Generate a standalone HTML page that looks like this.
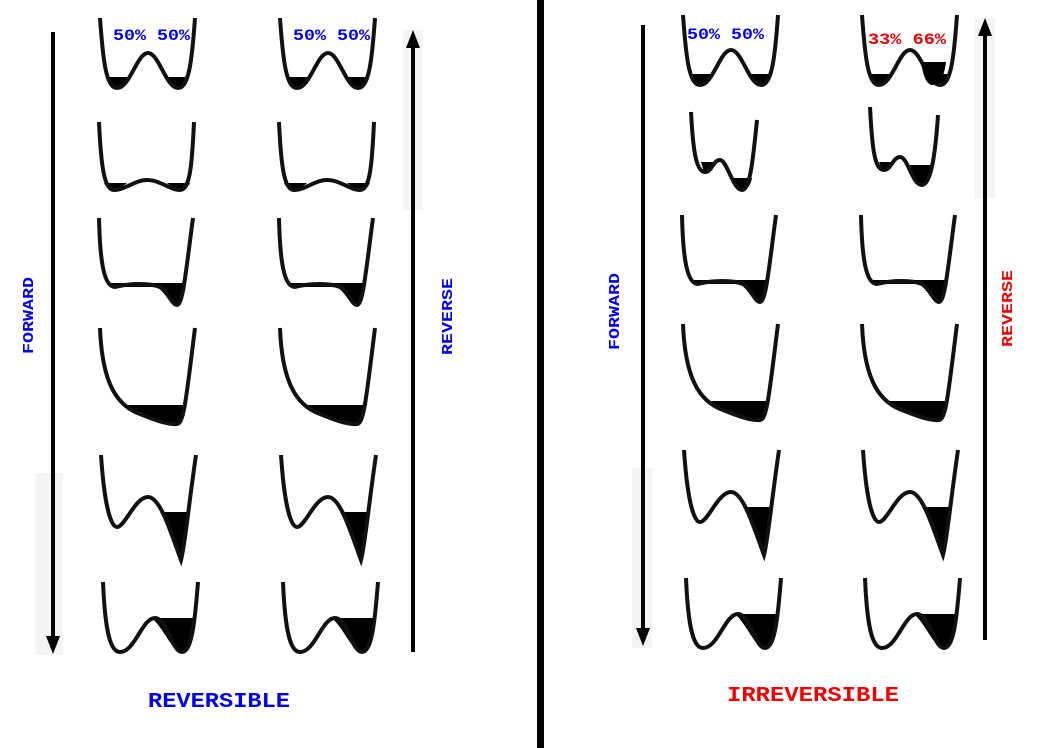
<!DOCTYPE html>
<html><head><meta charset="utf-8"><style>
html,body{margin:0;padding:0;background:#fff;}
svg{display:block;}
text{font-family:"Liberation Mono",monospace;font-weight:bold;}
</style></head><body>
<svg width="1042" height="748" viewBox="0 0 1042 748">
<defs>
<g id="w1">
<path d="M106,77 L128,77 C124,86 120,89 117,89 C112,89 108,85 106,77Z M167,77 L189,77 C187,85 183,89 178,89 C173,89 170,85 167,77Z" fill="#000"/>
<path d="M100,18 C103,60 106,88 117,88 C130,88 137,53 148,53 C159,53 166,88 178,88 C189,88 192,60 195,18" fill="none" stroke="#111" stroke-width="4"/>
</g>
<g id="w2">
<path d="M104,183 L127,183 C120,189 116,190 113,190 C109,190 106,187 104,183Z M167,183 L190,183 C188,187 185,190 181,190 C177,190 172,187 167,183Z" fill="#000"/>
<path d="M99,122 C101,165 104,190 114,190 C125,190 135,180 147,180 C160,180 170,190 180,190 C190,190 192,165 194,122" fill="none" stroke="#111" stroke-width="4"/>
</g>
<g id="w3">
<path d="M110,283 L186,283 C185,296 180,306 176,305 C170,303 166,290 160,287 L120,287 C115,288 112,286 110,283Z" fill="#000"/>
<path d="M99,218 C100,262 104,287 115,287 C130,283 150,283 160,287 C168,292 172,305 177,305 C183,305 186,270 193,218" fill="none" stroke="#111" stroke-width="4"/>
</g>
<g id="w4">
<path d="M122,405 L186,405 C185,418 182,424 176,424 C165,424 150,420 140,414 C132,410 126,408 122,405Z" fill="#000"/>
<path d="M100,328 C102,380 115,405 140,414 C155,420 168,425 177,424 C184,423 186,400 195,328" fill="none" stroke="#111" stroke-width="4"/>
</g>
<g id="w5">
<path d="M160,512 L189,512 L181,560 C176,545 168,525 160,512Z" fill="#000"/>
<path d="M101,455 C104,500 110,527 117,527 C125,527 135,497 148,497 C160,497 170,530 181,560 C185,545 188,510 196,455" fill="none" stroke="#111" stroke-width="4"/>
</g>
<g id="w6">
<path d="M152,618 L195,618 C193,640 188,652 182,652 C172,652 165,630 152,618Z" fill="#000"/>
<path d="M103,582 C105,630 110,652 120,652 C135,652 142,618 155,618 C167,618 172,652 182,652 C192,652 195,620 198,582" fill="none" stroke="#111" stroke-width="4"/>
</g>
<g id="r2a">
<path d="M701,162 L716,162 C712,172 707,174 704,172Z M732,178 L752,178 C750,188 745,191 741,190 C737,188 734,184 732,178Z" fill="#000"/>
<path d="M691,112 C693,150 696,172 705,172 C712,172 713,160 720,160 C727,160 733,190 742,190 C750,190 753,160 757,120" fill="none" stroke="#111" stroke-width="4"/>
</g>
<g id="r2b">
<path d="M879,162 L892,162 C890,170 886,172 882,170Z M910,165 L932,165 C930,180 925,185 920,183 C915,181 912,172 910,165Z" fill="#000"/>
<path d="M870,107 C872,145 874,170 884,170 C891,170 893,157 900,157 C908,157 912,185 922,185 C930,185 935,160 938,115" fill="none" stroke="#111" stroke-width="4"/>
</g>
</defs>

<rect x="35" y="473" width="28" height="182" fill="#f4f4f4"/>
<rect x="403" y="30" width="20" height="180" fill="#f4f4f4"/>
<rect x="632" y="468" width="20" height="180" fill="#f4f4f4"/>
<rect x="975" y="18" width="20" height="180" fill="#f4f4f4"/>

<rect x="537" y="0" width="7" height="748" fill="#000"/>

<g>
<line x1="53" y1="32" x2="53" y2="640" stroke="#000" stroke-width="4"/>
<path d="M46,636 L60,636 L53,654 Z" fill="#000"/>
</g>
<g>
<line x1="413" y1="652" x2="413" y2="44" stroke="#000" stroke-width="4"/>
<path d="M406,48 L420,48 L413,30 Z" fill="#000"/>
</g>
<g>
<line x1="643" y1="25" x2="643" y2="632" stroke="#000" stroke-width="4"/>
<path d="M636,628 L650,628 L643,646 Z" fill="#000"/>
</g>
<g>
<line x1="985" y1="640" x2="985" y2="32" stroke="#000" stroke-width="4"/>
<path d="M978,36 L992,36 L985,18 Z" fill="#000"/>
</g>

<g>
<use href="#w1"/>
<use href="#w1" transform="translate(180,0)"/>
<use href="#w2"/>
<use href="#w2" transform="translate(180,0)"/>
<use href="#w3"/>
<use href="#w3" transform="translate(180,0)"/>
<use href="#w4"/>
<use href="#w4" transform="translate(180,0)"/>
<use href="#w5"/>
<use href="#w5" transform="translate(180,0)"/>
<use href="#w6"/>
<use href="#w6" transform="translate(180,0)"/>
</g>

<g>
<use href="#w1" transform="translate(583,-3)"/>
<use href="#w1" transform="translate(762,-3)"/>
<path d="M921,62 L946,62 C944,78 939,85 932,85 C926,84 923,75 921,62Z" fill="#000"/>
<use href="#r2a"/>
<use href="#r2b"/>
<use href="#w3" transform="translate(583,-3)"/>
<use href="#w3" transform="translate(762,-3)"/>
<use href="#w4" transform="translate(583,-4)"/>
<use href="#w4" transform="translate(762,-4)"/>
<use href="#w5" transform="translate(583,-5)"/>
<use href="#w5" transform="translate(762,-5)"/>
<use href="#w6" transform="translate(583,-4)"/>
<use href="#w6" transform="translate(762,-4)"/>
</g>

<text x="113" y="40" font-size="16" fill="#0000ee" textLength="77" lengthAdjust="spacingAndGlyphs">50% 50%</text>
<text x="293" y="40" font-size="16" fill="#0000ee" textLength="77" lengthAdjust="spacingAndGlyphs">50% 50%</text>
<text x="687" y="39" font-size="16" fill="#0000ee" textLength="77" lengthAdjust="spacingAndGlyphs">50% 50%</text>
<text x="868" y="44" font-size="16" fill="#ee0000" textLength="78" lengthAdjust="spacingAndGlyphs">33% 66%</text>

<text transform="translate(33,354) rotate(-90)" font-size="15" fill="#0000ee" textLength="77" lengthAdjust="spacingAndGlyphs">FORWARD</text>
<text transform="translate(452,355) rotate(-90)" font-size="15" fill="#0000ee" textLength="77" lengthAdjust="spacingAndGlyphs">REVERSE</text>
<text transform="translate(619,350) rotate(-90)" font-size="15" fill="#0000ee" textLength="77" lengthAdjust="spacingAndGlyphs">FORWARD</text>
<text transform="translate(1012,347) rotate(-90)" font-size="15" fill="#ee0000" textLength="77" lengthAdjust="spacingAndGlyphs">REVERSE</text>

<text x="148" y="707" font-size="21" fill="#0000ee" textLength="142" lengthAdjust="spacingAndGlyphs">REVERSIBLE</text>
<text x="727" y="701" font-size="21" fill="#ee0000" textLength="172" lengthAdjust="spacingAndGlyphs">IRREVERSIBLE</text>
</svg>
</body></html>
